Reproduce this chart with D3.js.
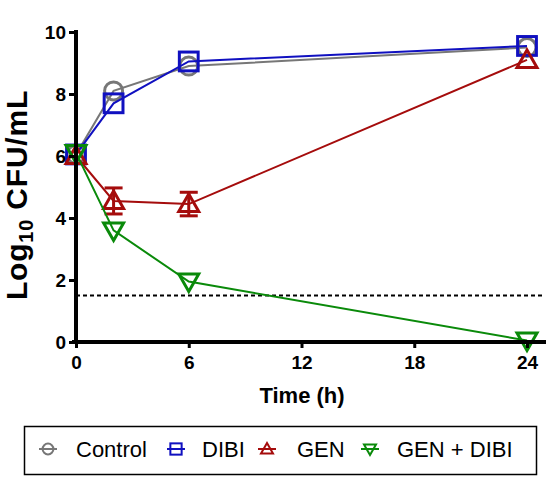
<!DOCTYPE html>
<html><head><meta charset="utf-8">
<script src="https://cdn.jsdelivr.net/npm/d3@7"></script>
<style>body{margin:0;background:#fff}svg{display:block}</style>
</head><body>
<svg id="c" width="550" height="478"></svg>
<script>
const times = [0, 2, 6, 24];
const seriesNames = ["Control", "DIBI", "GEN", "GEN + DIBI"];
const controlVals = [6.05, 8.1, 8.9, 9.5];
const dibiVals = [6.05, 7.7, 9.05, 9.55];
const genVals = [6.0, 4.55, 4.45, 9.1];
const genErr = [0, 0.42, 0.38, 0];
const genDibiVals = [6.1, 3.6, 1.95, 0.05];
const xTicks = [0, 6, 12, 18, 24];
const yTicks = [0, 2, 4, 6, 8, 10];
const detectionLimit = 1.5;

const colors = ["#777777", "#1010c0", "#a50c0c", "#0a8a0a"];
const shapes = ["circle", "square", "triUp", "triDown"];
const valsList = [controlVals, dibiVals, genVals, genDibiVals];
const errList = [null, null, genErr, null];

const svg = d3.select("#c");
const x = d3.scaleLinear().domain([0, 24]).range([76, 527]);
const y = d3.scaleLinear().domain([0, 10]).range([342, 32]);

svg.append("line").attr("x1", x(0)).attr("x2", 544)
  .attr("y1", y(detectionLimit)).attr("y2", y(detectionLimit))
  .attr("stroke", "#000").attr("stroke-width", 2).attr("stroke-dasharray", "4,3");

function symbolPath(g, shape, cx, cy, s, color, sw) {
  if (shape === "circle") {
    g.append("circle").attr("cx", cx).attr("cy", cy).attr("r", s * 0.45)
      .attr("fill", "none").attr("stroke", color).attr("stroke-width", sw);
  } else if (shape === "square") {
    const h = s * 0.47;
    g.append("rect").attr("x", cx - h).attr("y", cy - h).attr("width", 2 * h).attr("height", 2 * h)
      .attr("fill", "none").attr("stroke", color).attr("stroke-width", sw);
  } else {
    const h = s * 0.5;
    const up = shape === "triUp";
    const pts = up
      ? [[cx, cy - h * 1.0], [cx + h, cy + h * 0.75], [cx - h, cy + h * 0.75]]
      : [[cx, cy + h * 1.0], [cx + h, cy - h * 0.75], [cx - h, cy - h * 0.75]];
    g.append("polygon").attr("points", pts.map(p => p.join(",")).join(" "))
      .attr("fill", "none").attr("stroke", color).attr("stroke-width", sw).attr("stroke-linejoin", "miter");
  }
}

const line = d3.line().x((d, i) => x(times[i])).y(d => y(d));

valsList.forEach((vals, k) => {
  const g = svg.append("g");
  g.append("path").attr("d", line(vals)).attr("fill", "none")
    .attr("stroke", colors[k]).attr("stroke-width", 2);
  if (errList[k]) {
    vals.forEach((v, i) => {
      const e = errList[k][i];
      if (!e) return;
      const cx = x(times[i]);
      g.append("line").attr("x1", cx).attr("x2", cx).attr("y1", y(v - e)).attr("y2", y(v + e))
        .attr("stroke", colors[k]).attr("stroke-width", 3);
      [v - e, v + e].forEach(b => g.append("line").attr("x1", cx - 9).attr("x2", cx + 9)
        .attr("y1", y(b)).attr("y2", y(b)).attr("stroke", colors[k]).attr("stroke-width", 3));
    });
  }
  vals.forEach((v, i) => symbolPath(g, shapes[k], x(times[i]), y(v), 20, colors[k], 3));
});

const xAxis = svg.append("g").attr("transform", `translate(0,${y(0)})`)
  .call(d3.axisBottom(x).tickValues(xTicks).tickSize(6).tickPadding(4));
xAxis.select(".domain").attr("d", `M72,0H546`).attr("stroke-width", 4);
const yAxis = svg.append("g").attr("transform", `translate(${x(0)},0)`)
  .call(d3.axisLeft(y).tickValues(yTicks).tickSize(7).tickPadding(3));
yAxis.select(".domain").attr("d", `M0,${y(10) - 2}V${y(0) + 2}`).attr("stroke-width", 4);
[xAxis, yAxis].forEach(a => {
  a.selectAll(".tick line").attr("stroke-width", 3);
  a.selectAll("text").attr("font-family", "Arial, 'Liberation Sans', sans-serif")
    .attr("font-weight", "bold").attr("font-size", 19).attr("fill", "#000");
});
xAxis.selectAll(".tick text").attr("dy", "0.9em");
yAxis.selectAll(".tick text").attr("dy", "0.36em");

svg.append("text").attr("x", 302).attr("y", 403).attr("text-anchor", "middle")
  .attr("font-family", "Arial, 'Liberation Sans', sans-serif").attr("font-weight", "bold")
  .attr("font-size", 22).text("Time (h)");
const yt = svg.append("text").attr("transform", "translate(27,195) rotate(-90)")
  .attr("text-anchor", "middle")
  .attr("font-family", "Arial, 'Liberation Sans', sans-serif").attr("font-weight", "bold")
  .attr("font-size", 30).attr("letter-spacing", 0.8);
yt.append("tspan").text("Log");
yt.append("tspan").attr("font-size", 20).attr("dy", 6).text("10");
yt.append("tspan").attr("dy", -6).text(" CFU/mL");

svg.append("rect").attr("x", 24.5).attr("y", 426.5).attr("width", 512).attr("height", 48)
  .attr("fill", "none").attr("stroke", "#000").attr("stroke-width", 1.5);
const legX = [48, 176, 267, 370];
const legTextX = [76, 202, 297, 397];
seriesNames.forEach((n, k) => {
  const g = svg.append("g");
  g.append("line").attr("x1", legX[k] - 9).attr("x2", legX[k] + 9).attr("y1", 449).attr("y2", 449)
    .attr("stroke", colors[k]).attr("stroke-width", 2);
  symbolPath(g, shapes[k], legX[k], 449, 12, colors[k], 2);
  g.append("text").attr("x", legTextX[k]).attr("y", 457)
    .attr("font-family", "Arial, 'Liberation Sans', sans-serif").attr("font-size", 22)
    .attr("fill", "#000").text(n);
});
</script>
</body></html>
